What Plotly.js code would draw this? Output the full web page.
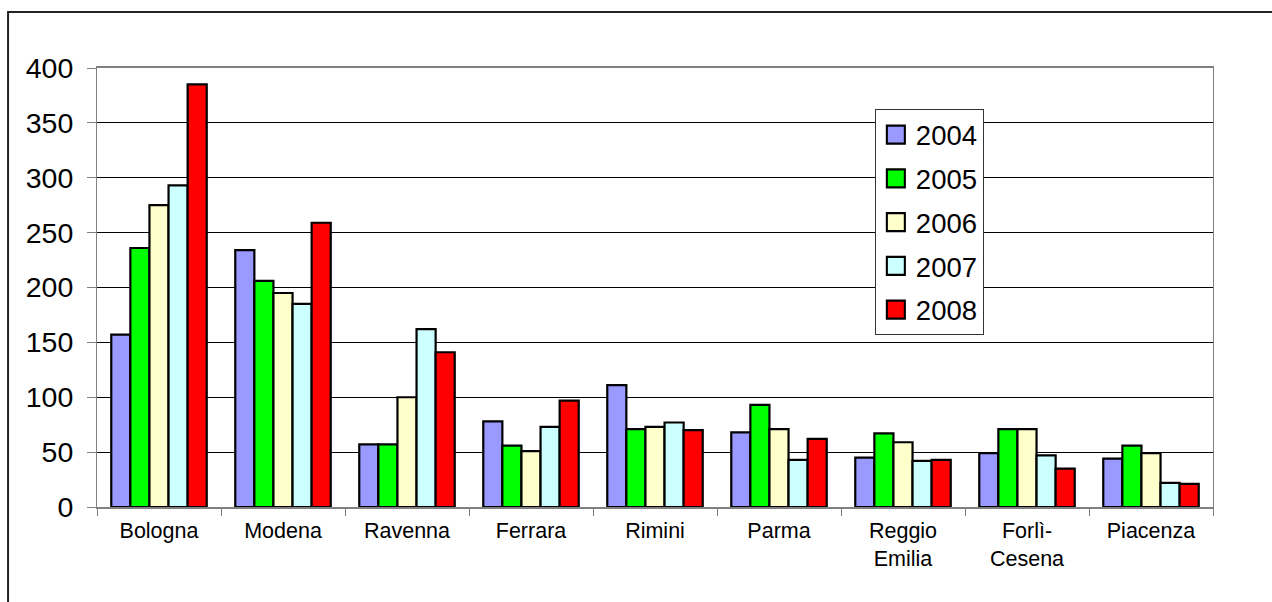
<!DOCTYPE html>
<html>
<head>
<meta charset="utf-8">
<script src="https://cdn.plot.ly/plotly-3.0.1.min.js"></script>
<style>
html,body{margin:0;padding:0;overflow:hidden;background:#fff;}
#chart{width:1272px;height:602px;}
</style>
</head>
<body>
<div id="chart"></div>
<script>
const categories = ["Bologna", "Modena", "Ravenna", "Ferrara", "Rimini", "Parma", "Reggio<br>Emilia", "Forlì-<br>Cesena", "Piacenza"];
const years = ["2004", "2005", "2006", "2007", "2008"];
const v2004 = [157, 234, 57, 78, 111, 68, 45, 49, 44];
const v2005 = [236, 206, 57, 56, 71, 93, 67, 71, 56];
const v2006 = [275, 195, 100, 51, 73, 71, 59, 71, 49];
const v2007 = [293, 185, 162, 73, 77, 43, 42, 47, 22];
const v2008 = [385, 259, 141, 97, 70, 62, 43, 35, 21];
const yTicks = [0, 50, 100, 150, 200, 250, 300, 350, 400];
const colors = ["#9999FF", "#00FF00", "#FFFFCC", "#CCFFFF", "#FF0000"];

const series = [v2004, v2005, v2006, v2007, v2008];
const traces = series.map((vals, i) => ({
  type: "bar",
  name: years[i],
  x: categories,
  y: vals,
  legendgroup: "g" + i,
  marker: {color: colors[i], line: {color: "#000000", width: 2.2}},
  hoverinfo: "x+y+name"
}));

const layout = {
  width: 1272,
  height: 602,
  margin: {l: 97, r: 59, t: 68, b: 95, pad: 0},
  paper_bgcolor: "#ffffff",
  plot_bgcolor: "#ffffff",
  barmode: "group",
  bargap: 0.23,
  bargroupgap: 0,
  font: {family: "Liberation Sans, Arial, sans-serif", color: "#000000"},
  xaxis: {
    type: "category",
    tickfont: {size: 21.5, color: "#000000"},
    showline: true, linecolor: "#808080", linewidth: 2, mirror: true,
    ticks: "outside", tickson: "boundaries", ticklen: 7, tickcolor: "#808080", tickwidth: 1,
    ticklabelstandoff: 3,
    showgrid: false, zeroline: false, fixedrange: true
  },
  yaxis: {
    range: [0, 400],
    tickvals: yTicks,
    ticktext: yTicks.map(String),
    tickfont: {size: 28.5, color: "#000000"},
    showline: true, linecolor: "#808080", linewidth: 1, mirror: true,
    ticks: "outside", ticklen: 9, tickcolor: "#808080", tickwidth: 1,
    ticklabelstandoff: 8,
    showgrid: true, gridcolor: "#000000", gridwidth: 1,
    zeroline: false, fixedrange: true
  },
  legend: {
    x: 0.697, y: 0.906, xanchor: "left", yanchor: "top",
    bgcolor: "#ffffff", bordercolor: "#333333", borderwidth: 1,
    font: {size: 27.5, color: "#000000"},
    traceorder: "grouped",
    tracegroupgap: 5,
    itemwidth: 30
  },
  shapes: [{
    type: "rect", xref: "paper", yref: "paper",
    x0: -0.0797, x1: 1.3, y0: -0.4, y1: 1.1276,
    line: {color: "#222222", width: 2}, fillcolor: "rgba(0,0,0,0)", layer: "below"
  }],
  showlegend: true
};

Plotly.newPlot("chart", traces, layout, {displayModeBar: false, staticPlot: true}).then(gd => {
  gd.querySelectorAll(".legend .legendpoints path").forEach(p => {
    const t = p.getAttribute("transform") || "";
    p.setAttribute("transform", t + " scale(1.5)");
    p.style.strokeWidth = "1.4px";
  });
});
</script>
</body>
</html>
